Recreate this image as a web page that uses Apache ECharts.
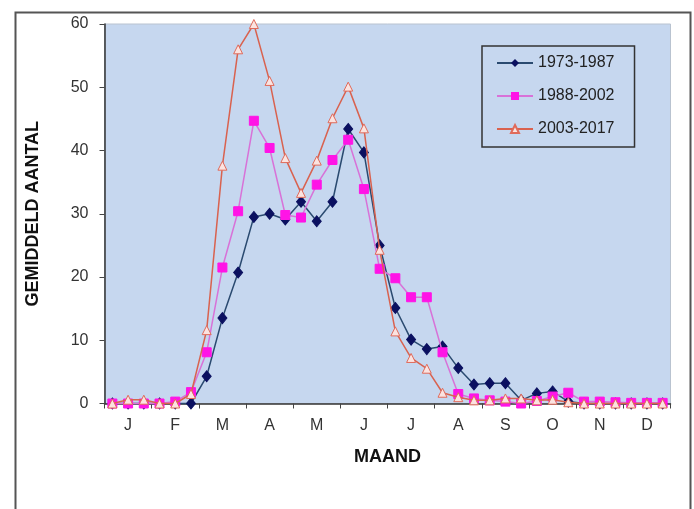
<!DOCTYPE html>
<html>
<head>
<meta charset="utf-8">
<script src="https://cdn.jsdelivr.net/npm/echarts@6/dist/echarts.min.js"></script>
<style>
html,body{margin:0;padding:0;background:#ffffff;}
#chart{width:694px;height:509px;}
</style>
</head>
<body>
<div id="chart"></div>
<script>
// Month initials (Dutch) and 10-day periods per month
var months = ['J','F','M','A','M','J','J','A','S','O','N','D'];
var decades = ['1','2','3'];
var yTicks = [0,10,20,30,40,50,60];

var seriesNames = ['1973-1987','1988-2002','2003-2017'];

var s1973 = [0,0,0,0,0,0, 4.3,13.5,20.7,29.5,30.0,29.1, 31.9,28.8,31.9,43.4,39.7,25.0, 15.1,10.1,8.6,9.0,5.6,3.0, 3.2,3.2,0.5,1.6,1.9,0.3, 0,0,0,0,0,0];
var s1988 = [0,0,0,0,0.3,1.8, 8.1,21.5,30.4,44.7,40.4,29.8, 29.4,34.6,38.5,41.7,33.9,21.3, 19.8,16.8,16.8,8.1,1.5,0.8, 0.5,0.3,0,0.4,1.1,1.7, 0.3,0.3,0.2,0.1,0.1,0.1];
var s2003 = [0,0.6,0.6,0,0,1.5, 11.6,37.6,56.0,60.0,51.0,38.8, 33.3,38.4,45.1,50.1,43.5,24.3, 11.4,7.2,5.5,1.7,1.0,0.5, 0.5,0.8,0.8,0.5,0.6,0.2, 0,0,0,0,0,0];

var categories = [];
months.forEach(function(m, mi){
  decades.forEach(function(d){ categories.push(m + '-' + mi + '-' + d); });
});

var chart = echarts.init(document.getElementById('chart'), null, {renderer:'canvas'});
var font = '"Liberation Sans", Arial, sans-serif';

chart.setOption({
  animation: false,
  backgroundColor: '#ffffff',
  graphic: [{
    type: 'rect',
    left: 13, top: 10,
    shape: {width: 675, height: 520},
    style: {fill: 'none', stroke: '#555', lineWidth: 2},
    silent: true
  }],
  grid: {
    left: 104.5, right: 23.5, top: 24, bottom: 105.5,
    show: true,
    backgroundColor: '#c6d7ef',
    borderColor: '#b9c3d0',
    borderWidth: 1
  },
  legend: {
    orient: 'vertical',
    left: 482, top: 46,
    width: 151, height: 101,
    padding: [9, 20, 10, 14],
    itemWidth: 36, itemHeight: 10,
    itemGap: 17,
    borderColor: '#333',
    borderWidth: 1.5,
    backgroundColor: '#c6d7ef',
    textStyle: {fontFamily: font, fontSize: 16, color: '#222', lineHeight: 16},
    data: seriesNames
  },
  xAxis: {
    type: 'category',
    data: categories,
    boundaryGap: true,
    name: 'MAAND',
    nameLocation: 'middle',
    nameGap: 45,
    nameTextStyle: {fontFamily: font, fontSize: 18, fontWeight: 'bold', color: '#111'},
    axisLine: {show: true, lineStyle: {color: '#333', width: 1.5}},
    axisTick: {show: true, length: 5, inside: false, interval: function(i){ return i % 3 === 0; }, lineStyle: {color: '#444'}},
    axisLabel: {
      interval: function(i){ return i % 3 === 1; },
      formatter: function(v){ return v.split('-')[0]; },
      margin: 14,
      fontFamily: font, fontSize: 16, color: '#333'
    },
    splitLine: {show: false}
  },
  yAxis: {
    type: 'value',
    min: yTicks[0], max: yTicks[yTicks.length-1], interval: 10,
    name: 'GEMIDDELD AANTAL',
    nameLocation: 'middle',
    nameGap: 62,
    nameTextStyle: {fontFamily: font, fontSize: 18, fontWeight: 'bold', color: '#111'},
    axisLine: {show: true, lineStyle: {color: '#333', width: 1.5}},
    axisTick: {show: true, length: 5, inside: false, lineStyle: {color: '#444'}},
    axisLabel: {margin: 16, fontFamily: font, fontSize: 16, color: '#333'},
    splitLine: {show: false}
  },
  series: [
    {
      name: seriesNames[0], type: 'line', data: s1973,
      showSymbol: true, showAllSymbol: true,
      symbol: 'diamond', symbolSize: [9, 11], clip: false, z: 3,
      lineStyle: {color: '#2a4a70', width: 1.5},
      itemStyle: {color: '#0b1060', borderColor: '#0b1060'}
    },
    {
      name: seriesNames[1], type: 'line', data: s1988,
      showSymbol: true, showAllSymbol: true,
      symbol: 'rect', symbolSize: 9, clip: false, z: 4,
      lineStyle: {color: '#d872d8', width: 1.5},
      itemStyle: {color: '#ff14e6', borderColor: '#ff14e6'}
    },
    {
      name: seriesNames[2], type: 'line', data: s2003,
      showSymbol: true, showAllSymbol: true,
      symbol: 'triangle', symbolSize: 9, clip: false, z: 5,
      lineStyle: {color: '#d9624f', width: 1.5},
      itemStyle: {color: '#fbe3e0', borderColor: '#e06a5a', borderWidth: 1}
    }
  ]
});
</script>
</body>
</html>
